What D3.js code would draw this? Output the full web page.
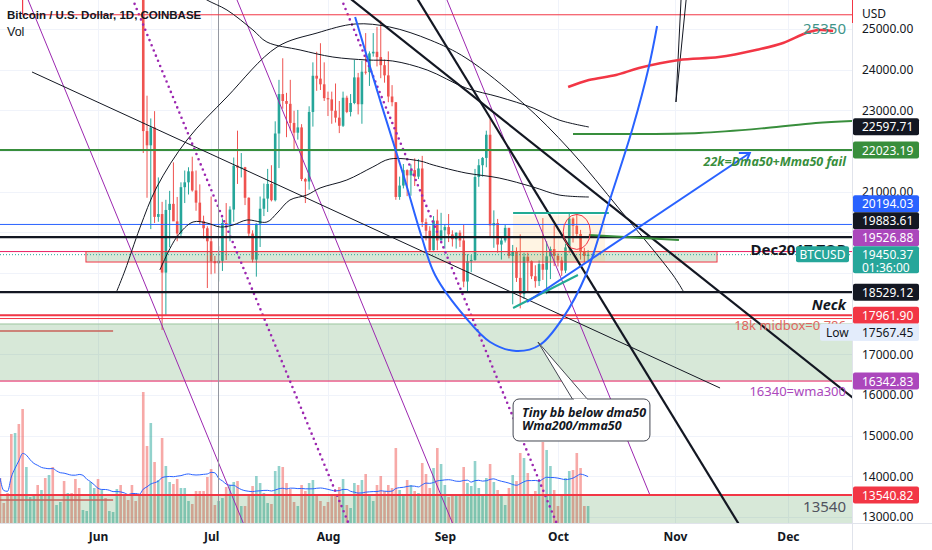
<!DOCTYPE html>
<html>
<head>
<meta charset="utf-8">
<script src="https://cdn.jsdelivr.net/npm/d3@7"></script>
<style>
  body { margin: 0; background: #fff; }
  svg { display: block; font-family: "Noto Sans", sans-serif; }
</style>
</head>
<body>
<svg id="chart" width="932" height="550"></svg>
<script>
// BTCUSD daily, Coinbase, 6 May - 9 Oct 2022
const firstDay = new Date(2022, 4, 6);

const opens = [
  36560,36010,35470,34040,30080,31010,28940,28880,29290,30090,31310,29860,30420,28700,30300,29190,29430,30280,29090,29650,29540,29200,28620,29020,29450,31720,
  31790,29800,30460,29700,29860,29900,31360,31120,30200,30110,29090,28420,26580,22490,22140,22580,20380,20450,19010,20550,20700,20270,19970,21110,21230,21500,21030,20730,20280,20100,
  19780,19290,19240,19300,20230,20190,20560,21640,21590,21600,20850,19970,19330,20210,20580,20830,21190,20790,22430,23400,23230,23160,22690,22450,22580,21310,21250,22960,23850,23780,23640,
  23300,23270,22990,22820,22620,23310,22960,23180,23810,23150,23950,23940,24400,24440,24310,24110,23860,23340,23200,20870,21150,21530,21400,21530,21370,21570,20250,20040,19560,20290,19800,
  20050,20130,19950,19830,19990,19800,18790,19290,19320,21360,21650,21830,22400,20170,20230,19700,19800,20110,19420,19540,18880,18480,19400,19290,18920,18800,19220,19080,19410,19590,
  19420,19310,19060,19630,20340,20160,19960,19530,19420
];
const highs = [
  36660,36130,35500,34240,32650,32190,30030,30980,30330,31420,31320,31000,30680,30530,30770,29620,30460,30660,29820,30200,29840,29380,29250,29530,31990,32370,
  31960,30640,30680,29960,30160,31750,31560,31330,30650,30390,29440,28560,26890,23360,22800,22980,21350,20750,20800,21020,21720,20870,21230,21520,21600,21860,21520,21180,20410,20150,
  20880,19420,19660,20340,20720,20640,21840,22500,21950,21610,20860,20050,20220,20880,21200,21560,21650,22730,23750,24280,23430,23750,22990,23010,22660,21340,23100,24180,24440,24650,24180,
  23460,23460,23660,23230,23460,23360,23400,24240,23920,24220,24900,24450,24900,25050,25210,24250,24450,23620,23200,21370,21680,21550,21670,21820,21800,21880,20340,20150,20400,20560,20480,
  20200,20450,20050,20000,20050,20180,19460,19440,21560,21800,21850,22500,22790,20540,20330,19890,20180,20110,19690,19630,19950,19500,19500,19310,19190,19310,20350,19780,19650,20170,
  19480,19400,19720,20480,20370,20460,20060,19620,19560
];
const lows = [
  35260,34780,33710,30030,29730,27700,25350,28760,28610,29500,29120,29530,28690,28680,28730,28950,29240,28880,28320,29330,28020,28270,28550,28810,29300,31220,
  29350,29600,29290,29460,29500,29890,29240,29860,29960,28880,28120,26600,21950,20850,20080,20230,20260,17600,17960,19630,20370,19780,19900,20720,20930,21000,20530,20200,19850,18630,
  18970,18990,18790,19050,19320,19780,20260,21190,21350,20670,19900,19260,18910,19640,20400,20500,20760,20760,21580,23040,22340,22500,22010,22280,21260,20720,21050,22600,23480,23500,23230,
  22860,22670,22700,22440,22590,22930,22850,23150,22900,22670,23880,23600,24320,24080,23790,23680,23200,23100,20800,20800,21080,20890,20900,21140,21310,20130,19800,19540,19550,19560,19800,
  19600,19760,19650,19600,19640,18650,18540,19020,19300,21120,21370,21600,19870,19620,19500,19330,19750,19360,18230,18780,18130,18360,18540,18850,18640,18680,18830,18480,18850,19170,
  19160,18930,19000,19500,19750,19860,19330,19260,19320
];
const closes = [
  36010,35470,34040,30080,31010,28940,28880,29290,30090,31310,29860,30420,28700,30300,29190,29430,30280,29090,29650,29540,29200,28620,29020,29450,31720,31790,
  29800,30460,29700,29860,29900,31360,31120,30200,30110,29090,28420,26580,22490,22140,22580,20380,20450,19010,20550,20700,20270,19970,21110,21230,21500,21030,20730,20280,20100,19780,
  19290,19240,19300,20230,20190,20560,21640,21590,21600,20850,19970,19330,20210,20580,20830,21190,20790,22430,23400,23230,23160,22690,22450,22580,21310,21250,22960,23850,23780,23640,23300,
  23270,22990,22820,22620,23310,22960,23180,23810,23150,23950,23940,24400,24440,24310,24110,23860,23340,23200,20870,21150,21530,21400,21530,21370,21570,20250,20040,19560,20290,19800,20050,
  20130,19950,19830,19990,19800,18790,19290,19320,21360,21650,21830,22400,20170,20230,19700,19800,20110,19420,19540,18880,18480,19400,19290,18920,18800,19220,19080,19410,19590,19420,
  19310,19060,19630,20340,20160,19960,19530,19420,19450.37
];
// volume, thousand BTC
const volumes = [
  45,20,30,89,90,99,114,56,26,27,38,33,45,48,56,18,21,42,30,30,44,35,13,12,41,35,
  44,33,25,12,11,34,38,28,23,38,22,28,131,77,100,61,43,85,57,41,39,44,35,35,22,19,32,32,32,46,
  54,18,22,25,36,38,41,42,17,17,27,37,47,40,30,20,19,52,57,56,40,34,21,17,38,32,40,43,28,22,17,
  21,27,28,36,44,18,15,40,38,43,49,28,22,38,47,32,38,35,75,33,28,43,38,32,30,60,49,35,55,75,59,
  38,26,27,28,29,56,40,37,62,35,27,45,59,41,33,28,18,35,48,42,70,65,50,28,32,43,81,73,57,33,
  17,28,45,52,53,70,55,17,17
];

const priceTicks = [13000,14000,15000,16000,17000,18000,19000,20000,21000,22000,23000,24000,25000];
const monthTicks = [new Date(2022,5,1), new Date(2022,6,1), new Date(2022,7,1), new Date(2022,8,1),
                    new Date(2022,9,1), new Date(2022,10,1), new Date(2022,11,1)];

// drawings: [day since 6 May, price]
const redMa = [[150.7,23574],[156.2,23746],[163.4,23869],[169.5,24041],[180.1,24238],[190.7,24311],
               [200.5,24484],[207.7,24656],[213.8,24902],[217.2,24975],[221.0,24951]];
const greenMa = [[152.0,22418],[167.9,22418],[185.4,22443],[203.2,22566],[216.4,22689],[226.3,22740]];
const upperBand = [[53.0,25840],[54.9,25713],[60.2,25467],[67.1,24975],[70.8,24680],[79.6,24484],[88.3,24311],
                   [97.3,24238],[104.2,24213],[113.3,23992],[123.6,23549],[132.4,23328],[141.4,23057],[148.3,22762],[156.2,22590]];
const lowerBand = [[42.4,19074],[46.9,19885],[51.2,20254],[54.9,20229],[58.4,20131],[61.8,20180],[65.5,20303],[70.8,20254],
                   [73.5,20475],[76.9,20795],[81.4,20918],[84.9,21090],[92.0,21287],[98.9,21607],[103.4,21803],[111.4,21754],
                   [114.9,21656],[123.6,21459],[132.4,21336],[141.4,21115],[148.3,20918],[156.2,20869]];
const bigArc = [[31.0,18557],[33.2,19074],[37.1,20107],[41.6,21115],[49.6,22271],[60.2,23328],[73.5,24557],[84.1,24902],
                [94.2,25123],[103.4,25049],[114.1,24729],[123.6,24287],[138.7,23180],[151.2,22024],[164.5,20549],[178.5,18951],[181.2,18557]];
const blueCup = [[94.2,25295],[100.8,23254],[107.0,21410],[111.7,19934],[115.4,18951],[123.6,17893],[130.0,17303],[136.9,17082],
                 [143.2,17230],[149.3,17893],[155.4,18951],[161.5,20721],[167.9,22590],[172.1,24066],[174.3,25074]];
const blueArrow = [[139.8,18287],[198.9,21951]];
const tealRise = [[136.1,18139],[153.3,18951]];
const tealTop = [[136.1,20475],[161.5,20475]];
const greenStub = [[156.2,19934],[180.1,19811]];
const blackV = [[[180.8,26000],[179.3,23205],[182.3,26000]]];
const thinTrend = [[8.5,23943],[191.0,16172]];
const thickTrends = [[[89.5,26000],[226.3,15926]], [[109.0,26000],[196.8,12700]]];
const purpleChannel = [[[6.2,26000],[65.2,12700]], [[61.6,26000],[120.7,12700]], [[117.3,26000],[172.4,13540.82]]];
const purpleDotted = [[[34.0,26000],[93.1,12700]], [[89.4,26000],[148.3,12700]]];
const cursorDay = 57.8;

const may12Low = 25350;
const dma50 = 22023.19;
const bbLine = 20194.03;
const rangeTop = 19883.61;
const dec2017Top = 19526.88;
const lastPrice = 19450.37;
const neck = 18529.12;
const midbox = [17961.90, 17880];
const greenBox = [17746, 16342.83];
const wma300 = 16342.83;
const floor13k = 13540.82;
const shortRed = [17574, 13418];
const topBox = { days: [22.8, 190.2], prices: [19526.88, 19270] };
const peachBox = { days: [136.1, 160.5], prices: [20420, 19280] };
const headCircle = { day: 153.0, price: 20010, rDays: 3.6, rPrice: 430 };
const noteBox = { days: [136.1, 172.4], prices: [15902, 14869], tip: [142.7, 17303], base: [152.0, 156.0] };
const noteLines = ["Tiny bb below dma50", "Wma200/mma50"];

const lineNotes = ["25350", "22k=Dma50+Mma50 fail", "Dec2017 TOP", "Neck", "18k midbox=0.786", "16340=wma300", "13540"];
const lineNotePrices = [25350, 22023.19, 19883.61, 18529.12, 17961.90, 16342.83, 13540.82];

const tagPrices = [22597.71, 22023.19, 20194.03, 19883.61, 19526.88, 19450.37, 18529.12, 17961.90, 17567.45, 16342.83, 13540.82];

// ---------- layout ----------
const W = 852, H = 523;
const dayMs = 864e5;
const at = d => new Date(firstDay.getTime() + d * dayMs);

const x = d3.scaleTime().domain([at(0), at(226)]).range([0, W]);
const y = d3.scaleLinear().domain([13000, 25000]).range([517, 29]);
const yv = d3.scaleLinear().domain([0, 100]).range([H, H - 100]);

const bars = opens.map((o, i) => ({
  date: d3.timeDay.offset(firstDay, i), o, h: highs[i], l: lows[i], c: closes[i], v: volumes[i],
  up: closes[i] >= o
}));
bars.forEach((b, i) => {
  const win = volumes.slice(Math.max(0, i - 19), i + 1);
  b.ma = d3.mean(win);
});

const svg = d3.select('#chart');
svg.append('rect').attr('width', 932).attr('height', 550).attr('fill', '#fff');
svg.append('defs').append('clipPath').attr('id', 'plot')
   .append('rect').attr('width', W).attr('height', H);

const plot = svg.append('g').attr('clip-path', 'url(#plot)');

// grid
plot.append('g').selectAll('line').data(priceTicks).join('line')
    .attr('x1', 0).attr('x2', W)
    .attr('y1', d => Math.round(y(d)) + 0.5).attr('y2', d => Math.round(y(d)) + 0.5)
    .attr('stroke', '#f0f3fa');
plot.append('g').selectAll('line').data(monthTicks).join('line')
    .attr('x1', d => Math.round(x(d)) + 0.5).attr('x2', d => Math.round(x(d)) + 0.5)
    .attr('y1', 0).attr('y2', H)
    .attr('stroke', '#f0f3fa');

// volume
plot.append('g').selectAll('rect').data(bars).join('rect')
    .attr('x', d => x(d.date) - 1.3)
    .attr('y', d => yv(d.v))
    .attr('width', 2.6)
    .attr('height', d => H - yv(d.v))
    .attr('fill', d => d.up ? 'rgba(38,166,154,0.5)' : 'rgba(239,83,80,0.5)');

plot.append('path').datum(bars)
    .attr('fill', 'none').attr('stroke', '#2962ff').attr('stroke-width', 1)
    .attr('d', d3.line().x(d => x(d.date)).y(d => yv(d.ma)).curve(d3.curveMonotoneX));

// candles
const candle = plot.append('g').selectAll('g').data(bars).join('g')
    .attr('fill', d => d.up ? '#26a69a' : '#ef5350')
    .attr('stroke', d => d.up ? '#26a69a' : '#ef5350');
candle.append('line')
    .attr('x1', d => x(d.date)).attr('x2', d => x(d.date))
    .attr('y1', d => y(d.h)).attr('y2', d => y(d.l))
    .attr('stroke-width', 1);
candle.append('rect')
    .attr('x', d => x(d.date) - 1.3)
    .attr('y', d => y(Math.max(d.o, d.c)))
    .attr('width', 2.6)
    .attr('height', d => Math.max(1, Math.abs(y(d.o) - y(d.c))))
    .attr('stroke', 'none');

// ---------- drawings ----------
const px = p => [x(at(p[0])), y(p[1])];
const straight = d3.line().x(p => x(at(p[0]))).y(p => y(p[1]));
const smooth = d3.line().x(p => x(at(p[0]))).y(p => y(p[1])).curve(d3.curveCatmullRom.alpha(0.5));
const fullSpan = [-5, 235];

function level(price, color, width, dash) {
  const ln = plot.append('line')
      .attr('x1', 0).attr('x2', W)
      .attr('y1', y(price)).attr('y2', y(price))
      .attr('stroke', color).attr('stroke-width', width);
  if (dash) ln.attr('stroke-dasharray', dash);
  return ln;
}
function path(points, color, width, curve) {
  return plot.append('path').attr('d', (curve ? smooth : straight)(points))
      .attr('fill', 'none').attr('stroke', color).attr('stroke-width', width)
      .attr('stroke-linejoin', 'round');
}
function band(days, prices, fill) {
  const x0 = x(at(days[0])), x1 = x(at(days[1]));
  const y0 = y(prices[0]), y1 = y(prices[1]);
  return plot.append('rect').attr('x', Math.min(x0, x1)).attr('y', Math.min(y0, y1))
      .attr('width', Math.abs(x1 - x0)).attr('height', Math.abs(y1 - y0)).attr('fill', fill);
}

const boxFill = 'rgba(56,142,60,0.2)';

// green zone under midbox
band(fullSpan, greenBox, boxFill);
level(greenBox[0], '#9cc59f', 1);
level(wma300, '#e91e63', 1);
// zone under 13540
band(fullSpan, [floor13k, 12000], boxFill);

// Dec 2017 top box
level(dec2017Top, '#e91e63', 1);
band(topBox.days, topBox.prices, boxFill)
    .attr('stroke', '#f23645').attr('stroke-width', 1);

// peach range box
band(peachBox.days, peachBox.prices, 'rgba(255,167,38,0.13)');

// channel lines
purpleChannel.forEach(l => path(l, '#9c27b0', 1));
purpleDotted.forEach(l => path(l, '#9c27b0', 2.6)
    .attr('stroke-dasharray', '0 5.6').attr('stroke-linecap', 'round'));

// cursor line
plot.append('line')
    .attr('x1', Math.round(x(at(cursorDay))) + 0.5).attr('x2', Math.round(x(at(cursorDay))) + 0.5)
    .attr('y1', 0).attr('y2', H).attr('stroke', '#9598a1').attr('stroke-width', 1);

// horizontal levels
plot.append('path')
    .attr('d', straight([[6, 26500], [6, may12Low], [226, may12Low]]))
    .attr('fill', 'none').attr('stroke', '#f23645').attr('stroke-width', 1);
level(dma50, '#388e3c', 2);
level(bbLine, '#2962ff', 1);
level(rangeTop, '#131722', 2.2);
level(lastPrice, '#26a69a', 1, '1 2');
level(neck, '#131722', 2.2);
level(midbox[0], '#f23645', 2);
level(midbox[1], '#f23645', 1);
level(floor13k, '#f23645', 2.2);
shortRed.forEach(p => path([[-5, p], [30, p]], '#c8625a', 1.5));

// moving averages and bands
path(upperBand, '#131722', 1, true);
path(lowerBand, '#131722', 1, true);
path(bigArc, '#131722', 1, true);
path(thinTrend, '#131722', 1);
thickTrends.forEach(l => path(l, '#131722', 2.2));
blackV.forEach(l => path(l, '#131722', 1));
path(redMa, '#f23645', 2.5, true);
path(greenMa, '#388e3c', 2, true);

// range structure
path(tealTop, '#22ab94', 2);
path(tealRise, '#22ab94', 2);
path(greenStub, '#388e3c', 2);
plot.append('ellipse')
    .attr('cx', x(at(headCircle.day))).attr('cy', y(headCircle.price))
    .attr('rx', x(at(headCircle.day + headCircle.rDays)) - x(at(headCircle.day)))
    .attr('ry', y(headCircle.price - headCircle.rPrice) - y(headCircle.price))
    .attr('fill', 'none').attr('stroke', '#f23645').attr('stroke-width', 1);

// blue cup and arrow
path(blueCup, '#2962ff', 2, true);
path(blueArrow, '#2962ff', 2);
{
  const [ax, ay] = px(blueArrow[0]);
  const [bx, by] = px(blueArrow[1]);
  const ang = Math.atan2(by - ay, bx - ax);
  const wing = a => [bx - 11 * Math.cos(ang + a), by - 11 * Math.sin(ang + a)];
  plot.append('path')
      .attr('d', d3.line()([wing(0.6), [bx, by], wing(-0.6)]))
      .attr('fill', 'none').attr('stroke', '#2962ff').attr('stroke-width', 2)
      .attr('stroke-linejoin', 'miter');
}

// callout
{
  const bx0 = x(at(noteBox.days[0])), bx1 = x(at(noteBox.days[1]));
  const by0 = y(noteBox.prices[0]), by1 = y(noteBox.prices[1]);
  const [tx, ty] = px(noteBox.tip);
  plot.append('path')
      .attr('d', d3.line()([[x(at(noteBox.base[0])), by0 + 1], [tx, ty], [x(at(noteBox.base[1])), by0 + 1]]))
      .attr('fill', '#fff').attr('stroke', '#434651').attr('stroke-width', 1);
  plot.append('rect').attr('x', bx0).attr('y', by0).attr('width', bx1 - bx0).attr('height', by1 - by0)
      .attr('rx', 6).attr('fill', '#fff').attr('stroke', '#434651').attr('stroke-width', 1);
  plot.append('path')
      .attr('d', d3.line()([[x(at(noteBox.base[0])) + 1, by0 + 0.5], [x(at(noteBox.base[1])) - 1, by0 + 0.5]]))
      .attr('stroke', '#fff').attr('stroke-width', 1.5);
  plot.append('g').selectAll('text').data(noteLines).join('text')
      .attr('x', bx0 + 9)
      .attr('y', (d, i) => by0 + 14 + i * 12.5)
      .attr('dominant-baseline', 'central')
      .attr('font-size', 12.5).attr('font-weight', 700).attr('font-style', 'italic')
      .attr('fill', '#131722')
      .text(d => d);
}

// notes on horizontal lines (right aligned, below their line)
const noteStyle = {
  "25350": { size: 15, weight: 400, style: 'normal', color: '#3e9488', off: 13 },
  "22k=Dma50+Mma50 fail": { size: 12.5, weight: 700, style: 'italic', color: '#388e3c', off: 11 },
  "Dec2017 TOP": { size: 15, weight: 700, style: 'normal', color: '#131722', off: 12 },
  "Neck": { size: 14.5, weight: 700, style: 'italic', color: '#131722', off: 12 },
  "18k midbox=0.786": { size: 13, weight: 400, style: 'normal', color: '#e0665f', off: 10 },
  "16340=wma300": { size: 13, weight: 400, style: 'normal', color: '#ab47bc', off: 10 },
  "13540": { size: 15, weight: 400, style: 'normal', color: '#50535e', off: 11 }
};
plot.append('g').selectAll('text').data(lineNotes).join('text')
    .attr('x', W - 6)
    .attr('y', (d, i) => y(lineNotePrices[i]) + noteStyle[d].off)
    .attr('text-anchor', 'end').attr('dominant-baseline', 'central')
    .attr('font-size', d => noteStyle[d].size)
    .attr('font-weight', d => noteStyle[d].weight)
    .attr('font-style', d => noteStyle[d].style)
    .attr('fill', d => noteStyle[d].color)
    .text(d => d);

// ---------- header ----------
svg.append('text').attr('x', 7).attr('y', 15).attr('dominant-baseline', 'central')
   .attr('font-family', '"Liberation Sans", sans-serif')
   .attr('font-size', 11.5).attr('font-weight', 700).attr('fill', '#131722')
   .text('Bitcoin / U.S. Dollar, 1D, COINBASE');
svg.append('text').attr('x', 7).attr('y', 32).attr('dominant-baseline', 'central')
   .attr('font-family', '"Liberation Sans", sans-serif')
   .attr('font-size', 12.5).attr('fill', '#131722').text('Vol');

// ---------- price tags with overlap handling ----------
const tagFill = {
  22597.71: '#131722', 22023.19: '#388e3c', 20194.03: '#2962ff', 19883.61: '#131722',
  19526.88: '#ab47bc', 19450.37: '#26a69a', 18529.12: '#131722', 17961.9: '#f23645',
  17567.45: '#e3ecfb', 16342.83: '#ab47bc', 13540.82: '#f23645'
};
const tags = tagPrices.map(p => ({ p, top: y(p) - 8.5, h: p === lastPrice ? 27 : 17 }))
  .sort((a, b) => a.top - b.top);
const k = tags.findIndex(t => t.p === lastPrice);
for (let i = k - 1; i >= 0; i--) {
  if (tags[i].top + tags[i].h > tags[i + 1].top) tags[i].top = tags[i + 1].top - tags[i].h;
}
for (let i = k + 1; i < tags.length; i++) {
  const prev = tags[i - 1];
  if (tags[i].top < prev.top + prev.h) tags[i].top = prev.top + prev.h;
}

// ---------- axes ----------
svg.append('line').attr('x1', W + 0.5).attr('x2', W + 0.5).attr('y1', 0).attr('y2', 550)
   .attr('stroke', '#e0e3eb');
svg.append('line').attr('x1', 0).attr('x2', 932).attr('y1', H + 0.5).attr('y2', H + 0.5)
   .attr('stroke', '#e0e3eb');

// tick labels hidden under a price tag are not drawn (as on the platform)
const freeTicks = priceTicks.filter(t => !tags.some(g => y(t) > g.top - 2 && y(t) < g.top + g.h + 2));
const yAxis = svg.append('g').attr('transform', `translate(${W},0)`)
   .call(d3.axisRight(y).tickValues(freeTicks).tickFormat(d3.format('.2f')).tickSize(0).tickPadding(10));
yAxis.select('.domain').remove();
yAxis.selectAll('text').attr('font-size', 12).attr('fill', '#131722').attr('font-family', '"Noto Sans", sans-serif');

const xAxis = svg.append('g').attr('transform', `translate(0,${H})`)
   .call(d3.axisBottom(x).tickValues(monthTicks).tickFormat(d3.timeFormat('%b')).tickSize(0).tickPadding(9));
xAxis.select('.domain').remove();
xAxis.selectAll('text').attr('font-size', 12).attr('font-weight', 700).attr('fill', '#131722')
   .attr('font-family', '"Noto Sans", sans-serif');

svg.append('text').attr('x', 862).attr('y', 13).attr('dominant-baseline', 'central')
   .attr('font-size', 12).attr('fill', '#131722').text('USD');
svg.append('line').attr('x1', W + 0.5).attr('x2', W + 0.5).attr('y1', 0).attr('y2', 23)
   .attr('stroke', '#f23645');

const tagG = svg.append('g').selectAll('g').data(tags).join('g');
tagG.filter(d => d.p === 17567.45).append('rect')
    .attr('x', 820).attr('y', d => d.top).attr('width', 99).attr('height', d => d.h)
    .attr('rx', 2).attr('fill', tagFill[17567.45]);
tagG.filter(d => d.p === 17567.45).append('text')
    .attr('x', 826).attr('y', d => d.top + 8.5).attr('dominant-baseline', 'central')
    .attr('font-size', 12).attr('fill', '#131722').text('Low');
tagG.append('rect')
    .attr('x', W + 1).attr('y', d => d.top).attr('width', 66).attr('height', d => d.h)
    .attr('rx', 2).attr('fill', d => tagFill[d.p]);
tagG.append('text')
    .attr('x', 862).attr('y', d => d.top + 8.5).attr('dominant-baseline', 'central')
    .attr('font-size', 12).attr('fill', d => d.p === 17567.45 ? '#131722' : '#fff')
    .text(d => d3.format('.2f')(d.p));
tagG.filter(d => d.p === lastPrice).append('text')
    .attr('x', 862).attr('y', d => d.top + 21).attr('dominant-baseline', 'central')
    .attr('font-size', 12).attr('fill', '#fff').text('01:36:00');

// symbol tag on the last price line
{
  const t = tags[k];
  svg.append('rect').attr('x', 796).attr('y', t.top).attr('width', 53).attr('height', 16)
     .attr('rx', 2).attr('fill', '#26a69a');
  svg.append('text').attr('x', 822.5).attr('y', t.top + 8).attr('text-anchor', 'middle')
     .attr('dominant-baseline', 'central').attr('font-size', 12).attr('fill', '#fff').text('BTCUSD');
}
</script>
</body>
</html>
